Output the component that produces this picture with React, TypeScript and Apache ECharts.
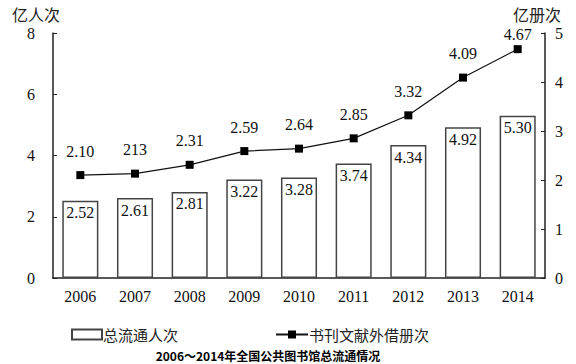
import React, { useEffect, useRef } from "react";
import * as echarts from "echarts";

const years = ["2006", "2007", "2008", "2009", "2010", "2011", "2012", "2013", "2014"];
const visitors = [2.52, 2.61, 2.81, 3.22, 3.28, 3.74, 4.34, 4.92, 5.3];
const visitorLabels = ["2.52", "2.61", "2.81", "3.22", "3.28", "3.74", "4.34", "4.92", "5.30"];
const loans = [2.1, 2.13, 2.31, 2.59, 2.64, 2.85, 3.32, 4.09, 4.67];
const loanLabels = ["2.10", "213", "2.31", "2.59", "2.64", "2.85", "3.32", "4.09", "4.67"];
const leftTicks = [0, 8, 2];
const rightTicks = [0, 5, 1];

const serif = "Liberation Serif";
const cjk = "Noto Sans CJK SC";

export default function App() {
  const ref = useRef<HTMLDivElement>(null);
  useEffect(() => {
    if (!ref.current) return;
    const chart = echarts.init(ref.current, null, { renderer: "svg" });
    const lastIdx = loans.length - 1;
    chart.setOption({
      animation: false,
      backgroundColor: "#fff",
      title: {
        text: "2006～2014年全国公共图书馆总流通情况",
        left: 263,
        textAlign: "center",
        top: 344,
        textStyle: { fontFamily: cjk, fontSize: 12, fontWeight: "bold", color: "#000" },
      },
      grid: { left: 53, right: 31, top: 33, bottom: 86 },
      legend: [
        {
          data: [{ name: "总流通人次", icon: "rect" }],
          left: 66,
          top: 322,
          itemWidth: 30,
          itemHeight: 10,
          itemGap: 2,
          textStyle: { fontFamily: cjk, fontSize: 15, color: "#222", padding: [0, 0, 0, -4] },
        },
        {
          data: ["书刊文献外借册次"],
          left: 270,
          top: 322,
          itemWidth: 32,
          itemHeight: 10,
          textStyle: { fontFamily: cjk, fontSize: 15, color: "#222", padding: [0, 0, 0, -4] },
        },
      ],
      xAxis: {
        type: "category",
        data: years,
        axisLine: { lineStyle: { color: "#222", width: 1.5 } },
        axisTick: { show: false },
        axisLabel: { fontFamily: serif, fontSize: 16, color: "#111", margin: 10 },
      },
      yAxis: [
        {
          type: "value",
          min: leftTicks[0],
          max: leftTicks[1],
          interval: leftTicks[2],
          name: "亿人次",
          nameLocation: "end",
          nameGap: 11,
          nameTextStyle: { fontFamily: cjk, fontSize: 16, color: "#222", align: "center", padding: [0, 34, 0, 0] },
          axisLine: { show: true, lineStyle: { color: "#222", width: 1.5 } },
          axisTick: { show: true, inside: true, length: 4, lineStyle: { color: "#222" } },
          axisLabel: { fontFamily: serif, fontSize: 16, color: "#111", margin: 18 },
          splitLine: { show: false },
        },
        {
          type: "value",
          min: rightTicks[0],
          max: rightTicks[1],
          interval: rightTicks[2],
          name: "亿册次",
          nameLocation: "end",
          nameGap: 11,
          nameTextStyle: { fontFamily: cjk, fontSize: 16, color: "#222", align: "center", padding: [0, 16, 0, 0] },
          axisLine: { show: true, lineStyle: { color: "#222", width: 1.5 } },
          axisTick: { show: true, inside: true, length: 4, lineStyle: { color: "#222" } },
          axisLabel: { fontFamily: serif, fontSize: 16, color: "#111", margin: 10 },
          splitLine: { show: false },
        },
      ],
      series: [
        {
          name: "总流通人次",
          type: "bar",
          data: visitors,
          barWidth: "66%",
          itemStyle: { color: "#fff", borderColor: "#444", borderWidth: 1.5 },
          label: {
            show: true,
            position: "insideTop",
            distance: 4,
            fontFamily: serif,
            fontSize: 16,
            color: "#111",
            formatter: (p: any) => visitorLabels[p.dataIndex],
          },
        },
        {
          name: "书刊文献外借册次",
          type: "line",
          yAxisIndex: 1,
          data: loans.map((v, i) =>
            i === lastIdx ? { value: v, label: { offset: [0, 9] } } : v
          ),
          symbol: "rect",
          symbolSize: 8,
          lineStyle: { color: "#111", width: 1.2 },
          itemStyle: { color: "#000" },
          label: {
            show: true,
            position: "top",
            distance: 12,
            fontFamily: serif,
            fontSize: 16,
            color: "#111",
            formatter: (p: any) => loanLabels[p.dataIndex],
          },
        },
      ],
    });
    return () => chart.dispose();
  }, []);
  return <div ref={ref} style={{ width: 576, height: 364, position: "absolute", left: 0, top: 0 }} />;
}
